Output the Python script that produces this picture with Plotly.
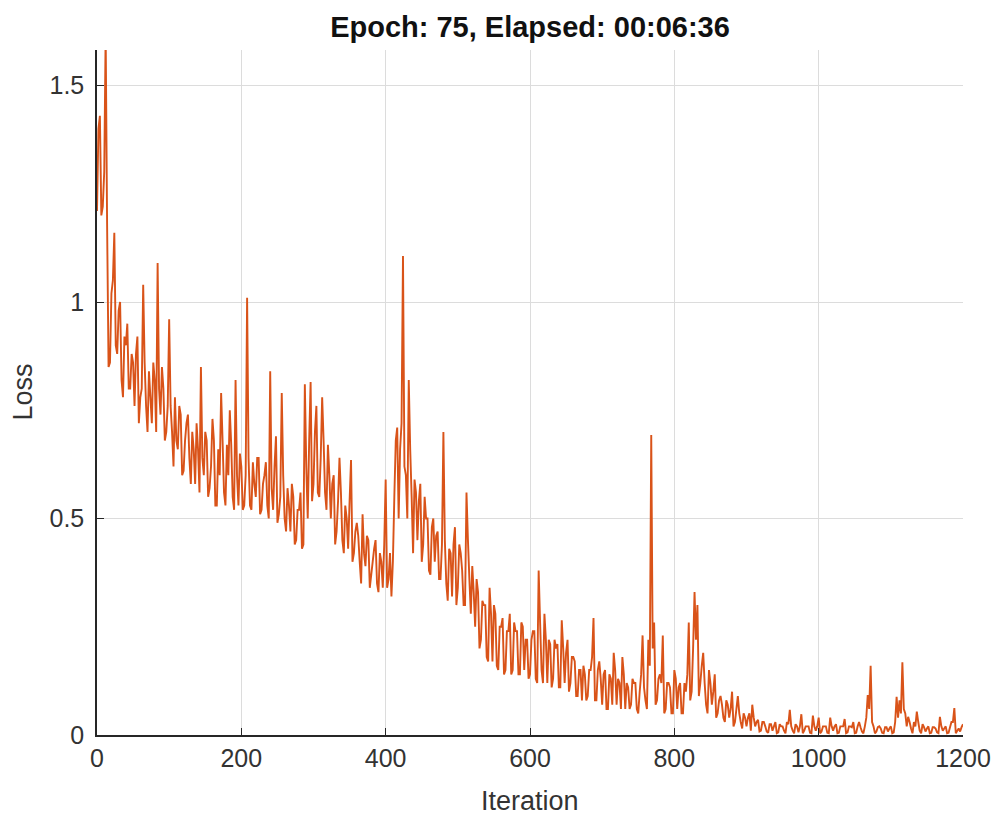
import plotly.graph_objects as go

# Loss every 2 iterations (0..1200).
# "loss_even_*": values at iterations 0,4,8,...; "loss_odd_*": values at 2,6,10,...
iterations = list(range(0, 1201, 2))

loss_even_0 = [1.21, 1.43, 1.22, 1.62, 0.85, 1.02, 1.16, 0.88, 1.00, 0.78,
               0.90, 0.80, 0.88, 0.76, 0.92, 0.78, 1.04, 0.76, 0.84, 0.72,
               0.82, 1.09, 0.74, 0.80, 0.70]
loss_even_100 = [0.96, 0.70, 0.78, 0.66, 0.74, 0.61, 0.72, 0.64, 0.70, 0.58,
                 0.66, 0.85, 0.60, 0.68, 0.57, 0.73, 0.53, 0.66, 0.79, 0.56,
                 0.67, 0.75, 0.55, 0.82, 0.53]
loss_even_200 = [0.62, 0.53, 1.01, 0.53, 0.63, 0.55, 0.64, 0.52, 0.60, 0.53,
                 0.84, 0.52, 0.69, 0.51, 0.79, 0.50, 0.57, 0.47, 0.55, 0.45,
                 0.52, 0.43, 0.81, 0.50, 0.815]
loss_even_300 = [0.58, 0.76, 0.55, 0.78, 0.56, 0.67, 0.50, 0.60, 0.47, 0.64,
                 0.45, 0.53, 0.43, 0.635, 0.42, 0.49, 0.40, 0.51, 0.39, 0.45,
                 0.37, 0.43, 0.35, 0.42, 0.34]
loss_even_400 = [0.59, 0.36, 0.32, 0.55, 0.71, 0.66, 1.106, 0.60, 0.82, 0.55,
                 0.59, 0.45, 0.58, 0.44, 0.50, 0.38, 0.48, 0.40, 0.47, 0.36,
                 0.70, 0.35, 0.43, 0.32, 0.48]
loss_even_500 = [0.34, 0.42, 0.30, 0.56, 0.36, 0.39, 0.25, 0.33, 0.22, 0.30,
                 0.18, 0.34, 0.17, 0.28, 0.15, 0.25, 0.14, 0.24, 0.28, 0.15,
                 0.24, 0.14, 0.26, 0.15, 0.22]
loss_even_600 = [0.14, 0.24, 0.13, 0.38, 0.15, 0.28, 0.12, 0.21, 0.13, 0.20,
                 0.11, 0.265, 0.12, 0.22, 0.12, 0.18, 0.09, 0.15, 0.08, 0.14,
                 0.09, 0.15, 0.27, 0.08, 0.17]
loss_even_700 = [0.07, 0.15, 0.06, 0.13, 0.19, 0.07, 0.12, 0.18, 0.06, 0.11,
                 0.07, 0.12, 0.06, 0.10, 0.23, 0.08, 0.22, 0.693, 0.26, 0.08,
                 0.14, 0.23, 0.06, 0.12, 0.05]
loss_even_800 = [0.15, 0.06, 0.12, 0.05, 0.10, 0.26, 0.10, 0.33, 0.30, 0.12,
                 0.19, 0.07, 0.15, 0.07, 0.14, 0.05, 0.09, 0.04, 0.08, 0.04,
                 0.10, 0.03, 0.09, 0.03, 0.05]
loss_even_900 = [0.02, 0.05, 0.07, 0.02, 0.035, 0.01, 0.03, 0.008, 0.025, 0.01,
                 0.03, 0.006, 0.02, 0.01, 0.03, 0.058, 0.01, 0.025, 0.006, 0.048,
                 0.01, 0.02, 0.005, 0.045, 0.01]
loss_even_1000 = [0.04, 0.008, 0.02, 0.005, 0.04, 0.01, 0.025, 0.005, 0.02, 0.037,
                  0.006, 0.02, 0.03, 0.005, 0.03, 0.008, 0.02, 0.092, 0.16, 0.02,
                  0.008, 0.02, 0.005, 0.018, 0.008]
loss_even_1100 = [0.02, 0.006, 0.088, 0.08, 0.168, 0.05, 0.042, 0.015, 0.03, 0.054,
                  0.01, 0.025, 0.008, 0.02, 0.005, 0.018, 0.006, 0.042, 0.01, 0.02,
                  0.005, 0.03, 0.062, 0.01, 0.008, 0.025]

loss_odd_0 = [1.40, 1.20, 1.30, 1.18, 0.86, 1.05, 0.90, 0.98, 0.82, 0.92,
              0.95, 0.80, 0.86, 0.88, 0.72, 0.80, 0.86, 0.70, 0.78, 0.86,
              0.70, 0.80, 0.85, 0.68, 0.76]
loss_odd_100 = [0.76, 0.62, 0.68, 0.76, 0.60, 0.68, 0.74, 0.58, 0.66, 0.72,
                0.56, 0.64, 0.70, 0.55, 0.62, 0.68, 0.53, 0.60, 0.68, 0.53,
                0.60, 0.67, 0.52, 0.60, 0.65]
loss_odd_200 = [0.52, 0.60, 0.64, 0.52, 0.58, 0.64, 0.51, 0.58, 0.63, 0.50,
                0.57, 0.62, 0.49, 0.55, 0.60, 0.47, 0.53, 0.58, 0.44, 0.52,
                0.56, 0.44, 0.62, 0.68, 0.54]
loss_odd_300 = [0.70, 0.56, 0.64, 0.68, 0.52, 0.60, 0.58, 0.44, 0.54, 0.56,
                0.42, 0.50, 0.54, 0.40, 0.47, 0.46, 0.35, 0.42, 0.46, 0.34,
                0.40, 0.45, 0.33, 0.40, 0.44]
loss_odd_400 = [0.34, 0.42, 0.40, 0.68, 0.50, 0.72, 0.62, 0.50, 0.66, 0.42,
                0.56, 0.54, 0.40, 0.55, 0.50, 0.37, 0.50, 0.46, 0.36, 0.44,
                0.45, 0.31, 0.42, 0.44, 0.30]
loss_odd_500 = [0.44, 0.38, 0.30, 0.45, 0.28, 0.33, 0.36, 0.20, 0.31, 0.30,
                0.17, 0.28, 0.30, 0.16, 0.25, 0.27, 0.15, 0.24, 0.14, 0.26,
                0.24, 0.14, 0.25, 0.22, 0.13]
loss_odd_600 = [0.22, 0.24, 0.12, 0.26, 0.12, 0.22, 0.22, 0.11, 0.22, 0.21,
                0.11, 0.20, 0.19, 0.10, 0.18, 0.17, 0.09, 0.15, 0.16, 0.08,
                0.15, 0.18, 0.08, 0.15, 0.13]
loss_odd_700 = [0.14, 0.06, 0.14, 0.07, 0.15, 0.13, 0.06, 0.14, 0.12, 0.06,
                0.13, 0.12, 0.05, 0.14, 0.11, 0.06, 0.16, 0.20, 0.07, 0.13,
                0.12, 0.05, 0.12, 0.11, 0.05]
loss_odd_800 = [0.13, 0.11, 0.05, 0.12, 0.14, 0.08, 0.20, 0.22, 0.09, 0.16,
                0.12, 0.05, 0.12, 0.10, 0.04, 0.08, 0.07, 0.03, 0.07, 0.06,
                0.02, 0.06, 0.05, 0.015, 0.04]
loss_odd_900 = [0.04, 0.01, 0.04, 0.03, 0.008, 0.03, 0.02, 0.005, 0.025, 0.02,
                0.004, 0.025, 0.02, 0.004, 0.025, 0.02, 0.004, 0.02, 0.02, 0.004,
                0.02, 0.02, 0.004, 0.02, 0.02]
loss_odd_1000 = [0.004, 0.02, 0.02, 0.004, 0.02, 0.02, 0.004, 0.02, 0.02, 0.004,
                 0.02, 0.018, 0.004, 0.02, 0.018, 0.004, 0.04, 0.06, 0.03, 0.004,
                 0.018, 0.015, 0.004, 0.018, 0.015]
loss_odd_1100 = [0.004, 0.03, 0.04, 0.05, 0.06, 0.02, 0.03, 0.004, 0.02, 0.03,
                 0.004, 0.018, 0.015, 0.004, 0.018, 0.015, 0.004, 0.02, 0.015, 0.004,
                 0.018, 0.03, 0.004, 0.015, 0.018]

loss_even = (loss_even_0 + loss_even_100 + loss_even_200 + loss_even_300 +
             loss_even_400 + loss_even_500 + loss_even_600 + loss_even_700 +
             loss_even_800 + loss_even_900 + loss_even_1000 + loss_even_1100)
loss_odd = (loss_odd_0 + loss_odd_100 + loss_odd_200 + loss_odd_300 +
            loss_odd_400 + loss_odd_500 + loss_odd_600 + loss_odd_700 +
            loss_odd_800 + loss_odd_900 + loss_odd_1000 + loss_odd_1100)

loss = []
for a, b in zip(loss_even, loss_odd):
    loss += [a, b]
loss.append(loss_even[-1])

x_ticks = [0, 200, 400, 600, 800, 1000, 1200]
y_ticks = [0, 0.5, 1, 1.5]
y_tick_labels = ["0", "0.5", "1", "1.5"]
title_text = "Epoch: 75, Elapsed: 00:06:36"
x_label = "Iteration"
y_label = "Loss"

FONT = "Liberation Sans, Arial, Helvetica, sans-serif"
AXIS_COLOR = "#262626"
TEXT_COLOR = "#333333"
GRID_COLOR = "#DCDCDC"

fig = go.Figure()
fig.add_trace(go.Scatter(
    x=iterations, y=loss, mode="lines",
    line=dict(color="#D95319", width=1.9, simplify=False),
    hoverinfo="x+y", showlegend=False,
))

W, H = 995, 816
L, R, T, B = 97, 31.5, 50, 81
PW, PH = W - L - R, H - T - B

fig.update_layout(
    width=W, height=H,
    margin=dict(l=L, r=R, t=T, b=B, pad=0, autoexpand=False),
    paper_bgcolor="white", plot_bgcolor="white",
    font=dict(family=FONT, color=TEXT_COLOR, size=24),
    title=dict(text="<b>" + title_text + "</b>", x=0.5, xref="paper", xanchor="center",
               y=1 - 27 / H, yref="container", yanchor="middle",
               font=dict(family=FONT, size=29, color="#111111")),
    xaxis=dict(range=[0, 1200], tickmode="array", tickvals=x_ticks,
               ticktext=[str(v) for v in x_ticks],
               showgrid=True, gridcolor=GRID_COLOR, gridwidth=1,
               zeroline=False, showline=True, linecolor=AXIS_COLOR, linewidth=1.5,
               ticks="inside", ticklen=7, tickwidth=1.3, tickcolor=AXIS_COLOR,
               tickfont=dict(size=25, color=TEXT_COLOR), mirror=False),
    yaxis=dict(range=[0, 1.582], tickmode="array", tickvals=y_ticks,
               ticktext=y_tick_labels,
               showgrid=True, gridcolor=GRID_COLOR, gridwidth=1,
               zeroline=False, showline=True, linecolor=AXIS_COLOR, linewidth=1.5,
               ticks="inside", ticklen=7, tickwidth=1.3, tickcolor=AXIS_COLOR,
               tickfont=dict(size=25, color=TEXT_COLOR), ticklabelstandoff=6,
               mirror=False),
    annotations=[
        dict(text=x_label, xref="paper", yref="paper", x=0.5,
             y=(735 - 801) / PH, xanchor="center", yanchor="middle",
             showarrow=False, font=dict(size=27, color=TEXT_COLOR)),
        dict(text=y_label, xref="paper", yref="paper", x=(22 - L) / PW,
             y=0.5, xanchor="center", yanchor="middle", textangle=-90,
             showarrow=False, font=dict(size=27, color=TEXT_COLOR)),
    ],
)

fig.write_html("out.html", config={"displayModeBar": False},
               post_script="document.body.style.margin='0px';")
